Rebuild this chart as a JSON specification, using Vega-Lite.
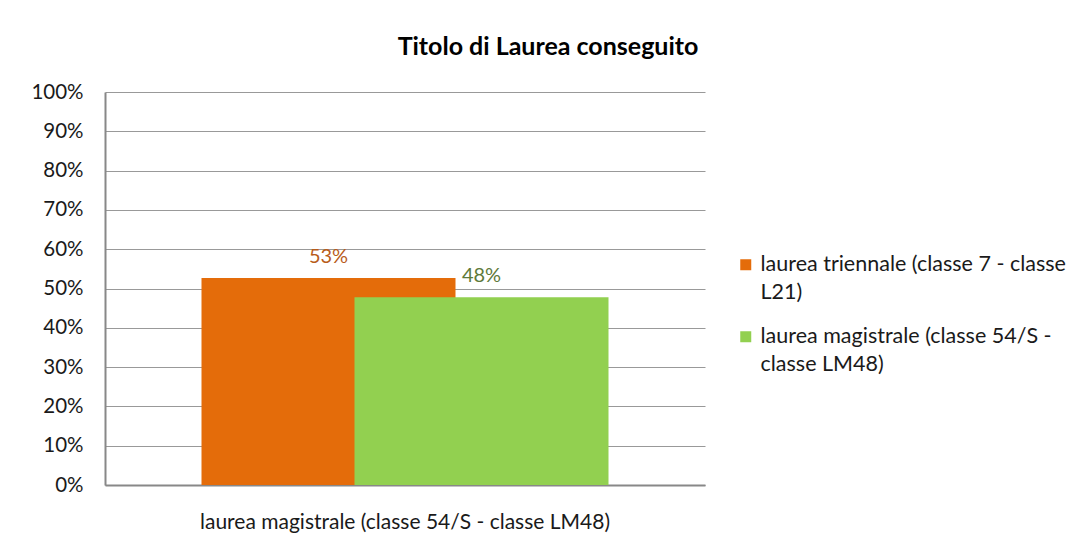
{
  "$schema": "https://vega.github.io/schema/vega-lite/v6.json",
  "width": 600,
  "height": 393,
  "autosize": "none",
  "padding": {"left": 105, "top": 92, "right": 369, "bottom": 68},
  "background": "white",
  "config": {
    "view": {"stroke": null},
    "font": "Lato",
    "axis": {"labelFont": "Lato", "labelColor": "#1a1a1a"}
  },
  "title": {
    "text": "Titolo di Laurea conseguito",
    "font": "Lato",
    "fontSize": 25,
    "fontWeight": "bold",
    "color": "#000000",
    "anchor": "middle",
    "dx": 143,
    "offset": 22
  },
  "data": {
    "values": [
      {"categoria": "laurea magistrale (classe 54/S - classe LM48)", "titolo": "laurea triennale (classe 7 - classe L21)", "quota": 0.527},
      {"categoria": "laurea magistrale (classe 54/S - classe LM48)", "titolo": "laurea magistrale (classe 54/S - classe LM48)", "quota": 0.478}
    ]
  },
  "encoding": {
    "x": {
      "field": "categoria",
      "type": "nominal",
      "title": null,
      "axis": {
        "labelAngle": 0,
        "labelFontSize": 21,
        "labelPadding": 26,
        "ticks": false,
        "domainColor": "#888888",
        "domainWidth": 2,
        "labelLimit": 0
      }
    },
    "y": {
      "field": "quota",
      "type": "quantitative",
      "title": null,
      "scale": {"domain": [0, 1], "nice": false},
      "axis": {
        "values": [0, 0.1, 0.2, 0.3, 0.4, 0.5, 0.6, 0.7, 0.8, 0.9, 1],
        "format": ".0%",
        "labelFontSize": 20.5,
        "labelPadding": 22,
        "ticks": false,
        "domainColor": "#888888",
        "domainWidth": 2,
        "gridColor": "#999999",
        "gridWidth": 1
      }
    },
    "color": {
      "field": "titolo",
      "type": "nominal",
      "scale": {
        "domain": ["laurea triennale (classe 7 - classe L21)", "laurea magistrale (classe 54/S - classe LM48)"],
        "range": ["#E46C0A", "#92D050"]
      },
      "legend": {
        "title": null,
        "orient": "none",
        "legendX": 630,
        "legendY": 162,
        "symbolType": "square",
        "symbolSize": 121,
        "symbolStrokeWidth": 0,
        "labelFont": "Lato",
        "labelFontSize": 21.5,
        "labelColor": "#1a1a1a",
        "labelOffset": 4,
        "labelLimit": 0,
        "rowPadding": 21,
        "labelBaseline": "middle",
        "labelExpr": "datum.label == 'laurea triennale (classe 7 - classe L21)' ? ['laurea triennale (classe 7 - classe', 'L21)'] : ['laurea magistrale (classe 54/S -', 'classe LM48)']",
        "encode": {"labels": {"update": {"lineHeight": {"value": 28}}}}
      }
    }
  },
  "layer": [
    {
      "transform": [{"filter": "datum.titolo == 'laurea triennale (classe 7 - classe L21)'"}],
      "layer": [
        {"mark": {"type": "bar", "width": 254, "xOffset": -76.5}},
        {
          "mark": {"type": "text", "xOffset": -76.5, "dy": -11, "baseline": "bottom", "fontSize": 20, "font": "Lato"},
          "encoding": {"text": {"field": "quota", "format": ".0%"}, "color": {"value": "#B85C1A"}}
        }
      ]
    },
    {
      "transform": [{"filter": "datum.titolo == 'laurea magistrale (classe 54/S - classe LM48)'"}],
      "layer": [
        {"mark": {"type": "bar", "width": 254, "xOffset": 76.5}},
        {
          "mark": {"type": "text", "xOffset": 76.5, "dy": -11, "baseline": "bottom", "fontSize": 20, "font": "Lato"},
          "encoding": {"text": {"field": "quota", "format": ".0%"}, "color": {"value": "#5E7A3A"}}
        }
      ]
    }
  ]
}
